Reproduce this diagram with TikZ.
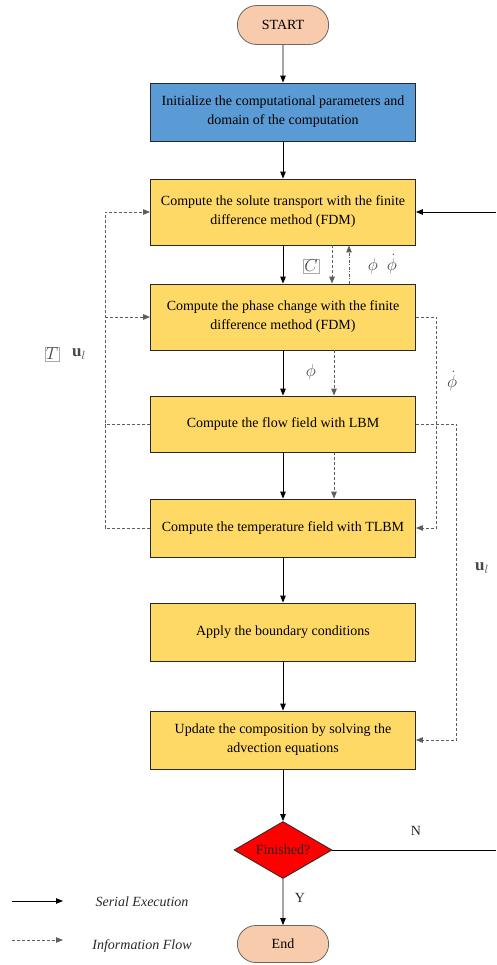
\documentclass[tikz,border=0pt]{standalone}
\usepackage{fontspec}
\setmainfont{Liberation Serif}
\usetikzlibrary{arrows.meta,positioning,shapes.geometric,shapes.misc,calc}
\definecolor{peach}{RGB}{248,203,173}
\definecolor{sky}{RGB}{91,155,213}
\definecolor{gold}{RGB}{255,217,102}
\definecolor{ink}{RGB}{40,40,40}
\tikzset{
  >={Triangle[length=7pt,width=5.5pt]},
  pill/.style={rounded rectangle,draw=ink!70,fill=peach,line width=0.8pt,
    minimum width=98pt,minimum height=39pt,font=\fontsize{14}{17}\selectfont},
  box/.style={draw=ink,fill=#1,line width=0.8pt,minimum width=265pt,
    minimum height=58pt,align=center,
    font=\fontsize{14}{19}\selectfont},
  box/.default=gold,
  flow/.style={->,line width=0.9pt,draw=black},
  info/.style={line width=0.9pt,draw=ink!75,dash pattern=on 3pt off 2pt},
  tag/.style={font=\fontsize{14}{17}\selectfont,text=ink},
  sym/.style={font=\fontsize{17}{19}\selectfont,text=ink!85,inner sep=1pt},
  framed/.style={draw=ink!40,line width=0.3pt,inner sep=1pt},
}
\begin{document}
\begin{tikzpicture}[x=1pt,y={(0,-1pt)}]
  \useasboundingbox (0,0) rectangle (496,965);
  % main chain
  \node[pill] (start) at (283,25) {START};
  \node[box=sky] (init) at (283,112) {Initialize the computational parameters and\\domain of the computation};
  \node[box,minimum height=66pt] (solute) at (283,212) {Compute the solute transport with the finite\\difference method (FDM)};
  \node[box,minimum height=66pt] (phase) at (283,317) {Compute the phase change with the finite\\difference method (FDM)};
  \node[box,minimum height=56pt] (field) at (283,424) {Compute the flow field with LBM};
  \node[box] (temp) at (283,528) {Compute the temperature field with TLBM};
  \node[box] (bc) at (283,632) {Apply the boundary conditions};
  \node[box] (update) at (283,740) {Update the composition by solving the\\advection equations};
  \node[diamond,draw=ink,fill=red,line width=0.8pt,inner sep=0pt,aspect=1.72,
    minimum width=98pt,minimum height=57pt,font=\fontsize{14}{17}\selectfont,
    text=ink] (finished) at (283,850) {Finished?};
  \node[pill,minimum height=37pt] (stop) at (283,944) {End};

  \foreach \a/\b in {start/init,init/solute,solute/phase,phase/field,field/temp,temp/bc,bc/update,update/finished,finished/stop}
    \draw[flow] (\a) -- (\b);

  % loop back from the right edge
  \coordinate (edge) at (496,212);
  \draw[flow] (edge) -- (solute.east);
  \draw[line width=0.9pt] (finished.east) -- (finished.east -| edge);
  \node[tag] (n) at (416,831) {N};
  \node[tag] (y) at (300,898) {Y};

  % information flow between the solvers
  \draw[info,->] ([xshift=49pt]solute.south) -- ([xshift=49pt]phase.north);
  \draw[info,dash pattern=on 3pt off 1.5pt on 1pt off 1.5pt,->] ([xshift=66pt]phase.north) -- ([xshift=66pt]solute.south);
  \draw[info,->] ([xshift=51pt]phase.south) -- ([xshift=51pt]field.north);
  \draw[info,->] ([xshift=51pt]field.south) -- ([xshift=51pt]temp.north);
  \draw[info,->] (phase.east) -- ++(21,0) |- (temp.east);
  \draw[info,->] (field.east) -- ++(41,0) |- (update.east);
  \coordinate (bus) at (105,0);
  \draw[info,->] (temp.west) -| (bus |- solute.west) -- (solute.west);
  \draw[info,->] (bus |- phase.west) -- (phase.west);
  \draw[info] (field.west) -- (bus |- field.west);

  \node[sym,framed] (cc) at (311,266) {$C$};
  \node[sym] (pp1) at (373,266) {$\phi$};
  \node[sym] (pp2) at (392,264) {$\dot{\phi}$};
  \node[sym] (p1) at (311,372) {$\phi$};
  \node[sym] (p2) at (452,381) {$\dot{\phi}$};
  \node[sym,framed] (tt) at (52,354) {$T$};
  \node[sym] (u1) at (79,354) {$\mathbf{u}_l$};
  \node[sym] (u2) at (482,568) {$\mathbf{u}_l$};

  % legend
  \coordinate (s0) at (12,901); \coordinate (s1) at (63,901);
  \coordinate (i0) at (12,940); \coordinate (i1) at (63,940);
  \draw[flow] (s0) -- (s1);
  \draw[info,->] (i0) -- (i1);
  \node[tag,font=\fontsize{14}{17}\selectfont\itshape] (se) at (142,902) {Serial Execution};
  \node[tag,font=\fontsize{14}{17}\selectfont\itshape] (if) at (142,946) {Information Flow};
\end{tikzpicture}
\end{document}
